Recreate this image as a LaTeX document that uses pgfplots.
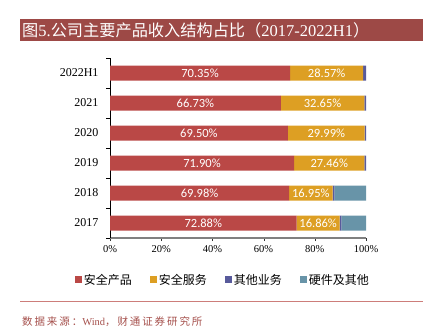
\documentclass[border=0pt]{standalone}
\usepackage{pgfplots}
\pgfplotsset{compat=1.18}
\usepackage{pgfplotstable}
\usepackage{fontspec}
\setmainfont{Liberation Serif}
\newfontfamily\cjk{Noto Sans CJK SC}
\newfontfamily\cjkt[LetterSpace=18]{Noto Sans CJK SC}
\newfontfamily\lab{Carlito}
\definecolor{titlered}{RGB}{157,73,70}
\definecolor{cA}{RGB}{186,72,70}
\definecolor{cB}{RGB}{221,159,35}
\definecolor{cC}{RGB}{88,90,155}
\definecolor{cD}{RGB}{104,148,168}
\definecolor{srcred}{RGB}{165,80,76}
\definecolor{linered}{RGB}{205,125,122}
\pgfplotstableread{
y a b c d
0 72.88 16.86 0.60 9.66
1 69.98 16.95 0.70 12.37
2 71.90 27.46 0.64 0
3 69.50 29.99 0.51 0
4 66.73 32.65 0.62 0
5 70.35 28.57 1.08 0
}\datatab
\pgfplotsset{
  common/.style={
    at={(110pt,-238pt)}, anchor=south west,
    scale only axis, width=256pt, height=180pt,
    xmin=0, xmax=100, ymin=-0.5, ymax=5.5,
    /pgf/number format/assume math mode=true},
  lbl/.style={draw=none, mark=none, point meta=explicit,
    nodes near coords={\lab\pgfmathprintnumber[fixed,fixed zerofill,precision=2,assume math mode=true]{\pgfplotspointmeta}\%},
    every node near coord/.style={anchor=center, text=white, font=\lab\fontsize{12.5}{13}\selectfont, inner sep=0pt}}
}
\begin{document}
\begin{tikzpicture}
\useasboundingbox (0pt,0pt) rectangle (430pt,-331pt);
\fill[titlered] (20pt,-19pt) rectangle (423pt,-41pt);
\node[anchor=west,text=white,inner sep=0] at (22pt,-30.5pt) {\fontsize{16.5}{18}\selectfont{\cjk\fontsize{16.2}{18}\selectfont 图}5.{\cjk\fontsize{16.2}{18}\selectfont 公司主要产品收入结构占比（}2017-2022H1{\cjk\fontsize{16.2}{18}\selectfont ）}};
\begin{axis}[
  common,
  xbar stacked, bar width=15pt,
  axis x line*=bottom, axis y line*=left,
  x axis line style={draw=gray, line width=1.3pt},
  y axis line style={draw=black, line width=0.6pt},
  xtick={0,20,...,100},
  xticklabel={\pgfmathprintnumber{\tick}\%},
  x tick label style={font=\fontsize{10.5}{12}\selectfont, yshift=-1pt},
  ytick={0,...,5},
  yticklabels={2017,2018,2019,2020,2021,2022H1},
  y tick label style={font=\fontsize{12}{14}\selectfont, xshift=-5pt},
  minor ytick={-0.5,0.5,...,5.5},
  tick align=outside,
  major tick length=3pt,
  minor tick length=4pt,
  y tick style={draw=none},
  minor y tick style={draw=black},
  x tick style={draw=black!80},
  legend style={at={(0.441,-0.233)}, anchor=center, draw=none,
    legend columns=4, font=\cjk\fontsize{12}{14}\selectfont,
    /tikz/every even column/.append style={column sep=16pt},
    inner sep=0pt},
  legend image code/.code={\fill[#1] (0pt,-3.5pt) rectangle (7pt,3.5pt);},
  legend cell align=left,
]
\addplot[fill=cA, draw=none] table[x=a, y=y] {\datatab};
\addlegendentry{安全产品}
\addplot[fill=cB, draw=none] table[x=b, y=y] {\datatab};
\addlegendentry{安全服务}
\addplot[fill=cC, draw=none] table[x=c, y=y] {\datatab};
\addlegendentry{其他业务}
\addplot[fill=cD, draw=none] table[x=d, y=y] {\datatab};
\addlegendentry{硬件及其他}
\end{axis}
\begin{axis}[common, hide axis]
\addplot[lbl] table[x expr=\thisrow{a}/2, y=y, meta=a] {\datatab};
\addplot[lbl] table[x expr=\thisrow{a}+\thisrow{b}/2, y=y, meta=b] {\datatab};
\end{axis}
\draw[linered, line width=0.8pt] (20pt,-301pt) -- (423pt,-301pt);
\node[anchor=west, text=srcred, inner sep=0] at (22pt,-322pt) {\fontsize{10.5}{12}\selectfont{\cjkt 数据来源：}Wind{\cjkt ，财通证券研究所}};
\end{tikzpicture}
\end{document}
